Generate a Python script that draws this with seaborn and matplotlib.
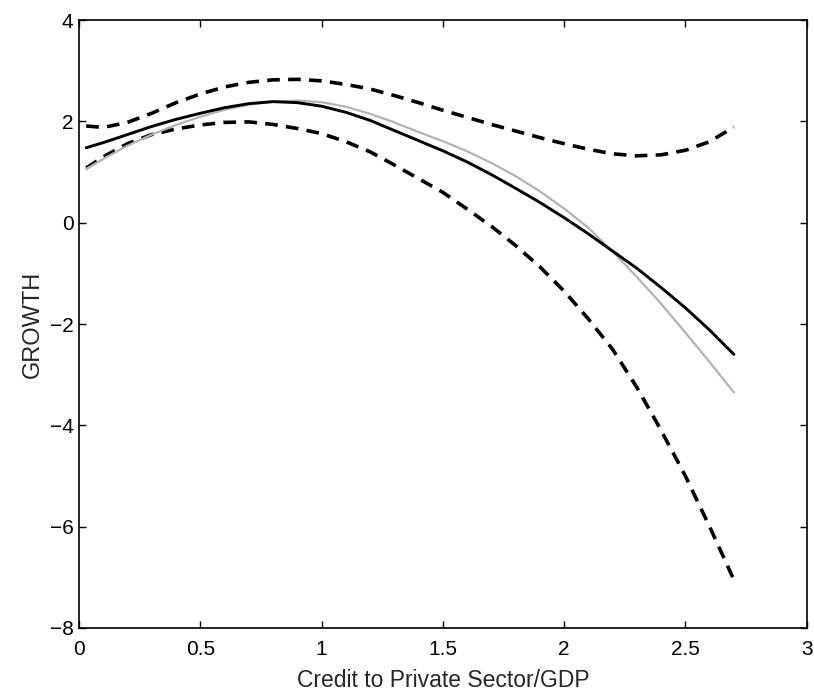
import numpy as np
import pandas as pd
import matplotlib
matplotlib.use("Agg")
import matplotlib.pyplot as plt
import seaborn as sns

# credit to private sector / GDP grid
credit = [0.03, 0.1, 0.2, 0.3, 0.4, 0.5, 0.6, 0.7, 0.8, 0.9, 1.0, 1.1, 1.2, 1.3,
          1.4, 1.5, 1.6, 1.7, 1.8, 1.9, 2.0, 2.1, 2.2, 2.3, 2.4, 2.5, 2.6, 2.7]

# estimated growth (solid black)
growth_est = [1.48, 1.58, 1.74, 1.90, 2.04, 2.16, 2.27, 2.35, 2.39, 2.37, 2.30, 2.18,
              2.02, 1.82, 1.62, 1.42, 1.20, 0.95, 0.68, 0.40, 0.10, -0.22, -0.56,
              -0.90, -1.28, -1.68, -2.12, -2.60]

# alternative fit (grey)
growth_alt = [1.06, 1.26, 1.52, 1.74, 1.93, 2.09, 2.23, 2.33, 2.39, 2.41, 2.38, 2.29,
              2.15, 1.98, 1.79, 1.61, 1.41, 1.18, 0.92, 0.62, 0.28, -0.10, -0.57,
              -1.07, -1.60, -2.17, -2.75, -3.35]

# confidence band (dashed)
band_upper = [1.91, 1.88, 1.98, 2.16, 2.37, 2.54, 2.68, 2.77, 2.82, 2.83, 2.80, 2.73,
              2.64, 2.51, 2.37, 2.22, 2.08, 1.94, 1.81, 1.68, 1.56, 1.45, 1.36, 1.32,
              1.34, 1.43, 1.60, 1.89]
band_lower = [1.08, 1.30, 1.56, 1.74, 1.85, 1.93, 1.98, 1.99, 1.94, 1.86, 1.76, 1.60,
              1.40, 1.14, 0.87, 0.60, 0.27, -0.07, -0.45, -0.87, -1.35, -1.90, -2.50,
              -3.25, -4.10, -5.00, -6.00, -7.05]

sns.set_style("ticks")
plt.rcParams["font.family"] = ["Liberation Sans", "DejaVu Sans"]

df = pd.DataFrame({"credit": credit, "est": growth_est, "alt": growth_alt,
                   "upper": band_upper, "lower": band_lower})

fig = plt.figure(figsize=(8.14, 6.92), dpi=100)
ax = fig.add_axes([0.097, 0.0925, 0.894, 0.8785])

dash = (0, (3.5, 2.3))
sns.lineplot(data=df, x="credit", y="upper", ax=ax, color="black", lw=2.6, linestyle=dash)
sns.lineplot(data=df, x="credit", y="lower", ax=ax, color="black", lw=2.6, linestyle=dash)
sns.lineplot(data=df, x="credit", y="alt", ax=ax, color="#b3b3b3", lw=1.6)
sns.lineplot(data=df, x="credit", y="est", ax=ax, color="black", lw=2.1)

ax.set_xlim(0, 3)
ax.set_ylim(-8, 4)
ax.set_xticks([0, 0.5, 1, 1.5, 2, 2.5, 3])
ax.set_xticklabels(["0", "0.5", "1", "1.5", "2", "2.5", "3"])
ax.set_yticks([-8, -6, -4, -2, 0, 2, 4])
ax.set_yticklabels(["\u22128", "\u22126", "\u22124", "\u22122", "0", "2", "4"])
ax.tick_params(direction="in", length=5, width=1, top=True, right=True,
               labelsize=15, colors="black")
ax.tick_params(axis="x", pad=9)
ax.tick_params(axis="y", pad=4)
for s in ax.spines.values():
    s.set_visible(True)
    s.set_linewidth(1.2)
    s.set_color("black")

ax.set_xlabel("Credit to Private Sector/GDP", fontsize=16.5, labelpad=7)
ax.set_ylabel("GROWTH", fontsize=17, labelpad=4)

fig.savefig("out.png", dpi=100)
